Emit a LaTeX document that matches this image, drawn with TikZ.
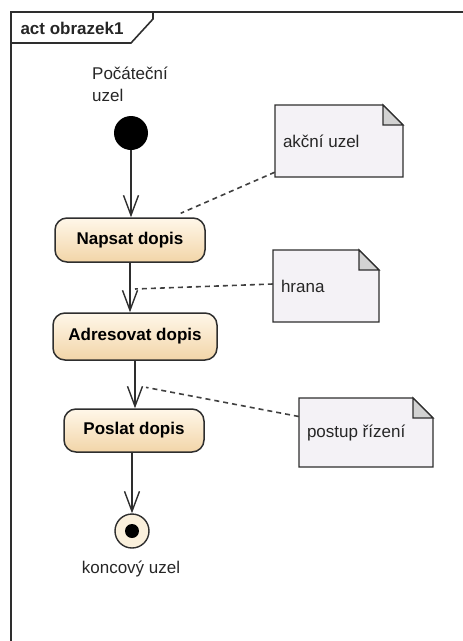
\documentclass[tikz,border=0pt]{standalone}
\usepackage{fontspec}
\setmainfont{Liberation Sans}
\usetikzlibrary{arrows.meta}

\definecolor{actlight}{HTML}{FFF7E9}
\definecolor{actdark}{HTML}{F2D5A8}
\definecolor{notecol}{HTML}{F4F2F6}
\definecolor{foldcol}{HTML}{D2D2D2}
\definecolor{endcol}{HTML}{FAF0DC}
\definecolor{linecol}{HTML}{2E2E2E}

% note with folded corner: name, centre, width, height, text
\NewDocumentCommand{\umlnote}{mmmmm}{%
\begin{scope}[shift={(#2)}]%
\filldraw[notebody] (-#3/2,-#4/2) -- (#3/2-20,-#4/2) -- (#3/2,-#4/2+20) -- (#3/2,#4/2) -- (-#3/2,#4/2) -- cycle;%
\filldraw[notefold] (#3/2-20,-#4/2) -- (#3/2-20,-#4/2+20) -- (#3/2,-#4/2+20) -- cycle;%
\end{scope}%
\node[inner sep=0, minimum width=#3, minimum height=#4] (#1) at (#2) {};%
\node[notetext, anchor=west] (#1txt) at ([xshift=8pt]#1.west) {#5};%
}

\begin{document}
\begin{tikzpicture}[x=1pt, y=-1pt,
    font=\fontsize{17}{22}\selectfont,
    action/.style={draw=linecol, line width=1.5pt, rounded corners=12pt,
        top color=actlight, bottom color=actdark, font=\fontsize{17}{22}\selectfont\bfseries},
    flow/.style={draw=linecol, line width=1.4pt, -{Straight Barb[length=20pt,width=15pt]}},
    notebody/.style={draw=linecol, fill=notecol, line width=1.3pt, line join=miter},
    notefold/.style={draw=linecol, fill=foldcol, line width=1.3pt},
    notetext/.style={inner sep=0, text=black!85},
    notelink/.style={draw=black!75, line width=1.6pt, dash pattern=on 5pt off 4pt},
    startnode/.style={circle, fill=black, minimum size=34pt, inner sep=0},
    endnode/.style={circle, draw=linecol, fill=endcol, line width=1.4pt, minimum size=34pt, inner sep=0}]
    \useasboundingbox (0,0) rectangle (463,641);

    % frame
    \draw[linecol, line width=2pt] (463,12) -- (11,12) -- (11,641);
    \draw[linecol, line width=1.6pt] (153,12) -- (153,19) -- (131,43) -- (11,43);
    \node[font=\fontsize{17}{22}\selectfont\bfseries, text=black!85] (title) at (72,28) {act obrazek1};

    % start
    \node[align=left, text=black!85] (startlbl) at (130,84) {Počáteční\\uzel};
    \node[startnode] (start) at (131,133) {};

    % actions
    \node[action, minimum width=150, minimum height=44] (a1) at (130,240) {Napsat dopis};
    \node[action, minimum width=164, minimum height=47] (a2) at (135,336.5) {Adresovat dopis};
    \node[action, minimum width=140, minimum height=43] (a3) at (134,430.5) {Poslat dopis};

    % end
    \node[endnode] (end) at (132,531) {};
    \fill[black] (end) circle (7);
    \node[text=black!85] (endlbl) at (131,569) {koncový uzel};

    % edges
    \draw[flow] (start) -- (start |- a1.north);
    \draw[flow] (a1) -- (a1 |- a2.north) coordinate[pos=0.53] (e1);
    \draw[flow] (a2) -- (a2 |- a3.north) coordinate[pos=0.56] (e2);
    \draw[flow] (end |- a3.south) -- (end);

    % notes
    \umlnote{n1}{339,141}{128}{72}{akční uzel}
    \umlnote{n2}{326,286}{106}{72}{hrana}
    \umlnote{n3}{366,432.5}{134}{69}{postup řízení}

    \draw[notelink] ([yshift=5pt]n1.south west) -- ([xshift=-25pt,yshift=4pt]a1.north east);
    \draw[notelink] ([yshift=2pt]n2.west) -- ([xshift=5pt]e1);
    \draw[notelink] ([yshift=16pt]n3.west) -- ([xshift=11pt]e2);
\end{tikzpicture}
\end{document}
